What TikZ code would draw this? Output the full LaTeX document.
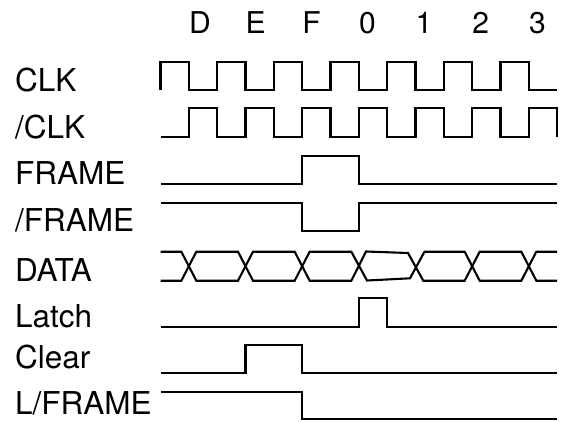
\documentclass[tikz,border=0pt]{standalone}
\usepackage{fontspec}
\setmainfont{TeX Gyre Heros}
\begin{document}
\begin{tikzpicture}[x=1pt,y=-1pt,
  sig/.style={line width=2.1pt,line join=miter},
  lbl/.style={anchor=base west,inner sep=0pt,font=\fontsize{31.5}{36}\selectfont},
  hdr/.style={anchor=base west,inner sep=0pt,font=\fontsize{30}{36}\selectfont}]
\useasboundingbox (0,0) rectangle (563,421);
\def\hh{28.333}
% header labels
\node[hdr] (hD) at (188.83,33.3) {D};
\node[hdr] (hE) at (245.5,33.3) {E};
\node[hdr] (hF) at (302.17,33.3) {F};
\node[hdr] (h0) at (358.83,33.3) {0};
\node[hdr] (h1) at (415.5,33.3) {1};
\node[hdr] (h2) at (472.17,33.3) {2};
\node[hdr] (h3) at (528.83,33.3) {3};
% signal names
\node[lbl] (lclk) at (15,91.5) {CLK};
\node[lbl] (lnclk) at (15,138) {/CLK};
\node[lbl] (lframe) at (15,184) {FRAME};
\node[lbl] (lnframe) at (15,231) {/FRAME};
\node[lbl] (ldata) at (15,281) {DATA};
\node[lbl] (llatch) at (15,327) {Latch};
\node[lbl] (lclear) at (15,368.5) {Clear};
\node[lbl] (llframe) at (15,414) {L/FRAME};
% CLK
\draw[sig] (160.5,90) foreach \k in {0,...,6} { -- ++(0,-28.3) -- ++(\hh,0) -- ++(0,28.3) -- ++(\hh,0) };
% /CLK
\draw[sig] (160.5,137.3) foreach \k in {0,...,6} { -- ++(\hh,0) -- ++(0,-29) -- ++(\hh,0) -- ++(0,29) };
% FRAME
\draw[sig] (160.5,184) -- (302.17,184) -- (302.17,155.7) -- (358.83,155.7) -- (358.83,184) -- (557.17,184);
% /FRAME
\draw[sig] (160.5,202.7) -- (302.17,202.7) -- (302.17,230.7) -- (358.83,230.7) -- (358.83,202.7) -- (557.17,202.7);
% DATA
\draw[sig] (160.5,251.7) -- (181.33,251.7) -- (196.33,280.7) -- (238,280.7) -- (253,251.7)
  -- (294.67,251.7) -- (309.67,280.7) -- (351.33,280.7) -- (366,251.5) -- (408,253)
  -- (423.3,280.7) -- (464.67,280.7) -- (479.67,251.7) -- (521.33,251.7) -- (536.33,280.7) -- (557.17,280.7);
\draw[sig] (160.5,280.7) -- (181.33,280.7) -- (196.33,251.7) -- (238,251.7) -- (253,280.7)
  -- (294.67,280.7) -- (309.67,251.7) -- (351.33,251.7) -- (367,280.5) -- (410,278.3)
  -- (424.5,251.7) -- (464.67,251.7) -- (479.67,280.7) -- (521.33,280.7) -- (536.33,251.7) -- (557.17,251.7);
% Latch
\draw[sig] (160.5,327.3) -- (358.83,327.3) -- (358.83,298.3) -- (387.17,298.3) -- (387.17,327.3) -- (557.17,327.3);
% Clear
\draw[sig] (160.5,373.3) -- (245.5,373.3) -- (245.5,345) -- (302.17,345) -- (302.17,373.3) -- (557.17,373.3);
% L/FRAME
\draw[sig] (160.5,391.7) -- (302.17,391.7) -- (302.17,419.3) -- (557.17,419.3);
\end{tikzpicture}
\end{document}
